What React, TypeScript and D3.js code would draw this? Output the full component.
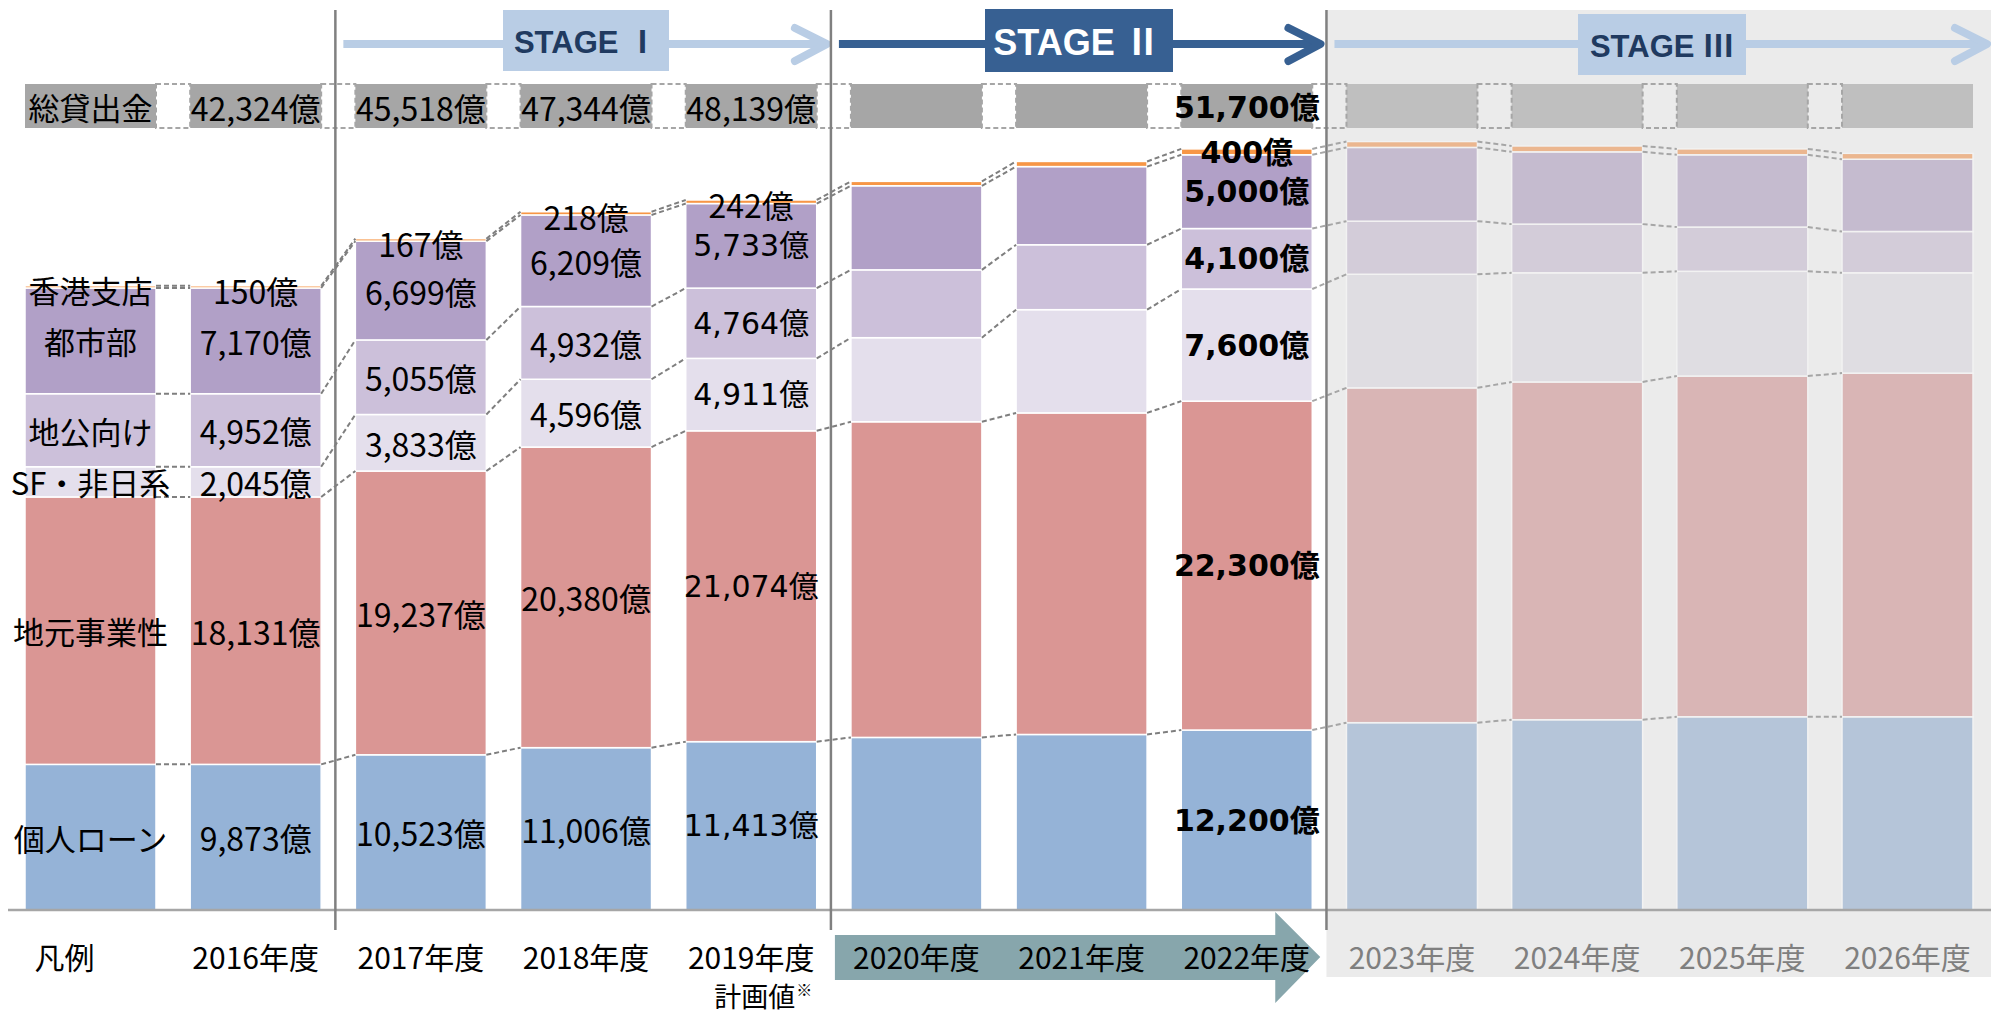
import * as d3 from "d3"

const W = 1991
const H = 1015

const years = ["2016年度", "2017年度", "2018年度", "2019年度", "2020年度", "2021年度", "2022年度", "2023年度", "2024年度", "2025年度", "2026年度"]
const stageOf = [0, 1, 1, 1, 2, 2, 2, 3, 3, 3, 3]
const seriesNames = ["個人ローン", "地元事業性", "SF・非日系", "地公向け", "都市部", "香港支店"]

// 億円, 2020/2021/2023+
const kojin = [9873, 10523, 11006, 11413, 11700, 11900, 12200, 12700, 12900, 13100, 13100]
const jimoto = [18131, 19237, 20380, 21074, 21400, 21800, 22300, 22700, 22900, 23100, 23300]
const sfHinichi = [2045, 3833, 4596, 4911, 5700, 7000, 7600, 7700, 7400, 7100, 6800]
const chiko = [4952, 5055, 4932, 4764, 4600, 4400, 4100, 3600, 3300, 3000, 2800]
const toshibu = [7170, 6699, 6209, 5733, 5700, 5300, 5000, 5000, 4900, 4900, 4900]
const hongkong = [150, 167, 218, 242, 300, 350, 400, 400, 400, 400, 400]
const totalLabels = ["42,324億", "45,518億", "47,344億", "48,139億", "", "", "51,700億", "", "", "", ""]
const valueYears = ["2016年度", "2017年度", "2018年度", "2019年度", "2022年度"]

const colors = ["#95B3D7", "#DA9694", "#E4DFEC", "#CCC0DA", "#B1A0C7", "#F79646"]
const fadedColors = ["#B5C5D9", "#D9B5B5", "#DFDDE2", "#D3CCD9", "#C5BBCF", "#EBB68F"]

const JP = "'Noto Sans CJK JP', 'Noto Sans', sans-serif"
const WIDE = "'DejaVu Sans', 'Noto Sans CJK JP', sans-serif"
const STAGEFONT = "'Liberation Sans', 'Noto Sans CJK JP', sans-serif"

const keys = ["kojin", "jimoto", "sf", "chiko", "toshi", "hk"]
const seriesData = [kojin, jimoto, sfHinichi, chiko, toshibu, hongkong]

const columns = ["凡例", ...years]
// legend column repeats the 2016 bar
const rows = columns.map((c, i) => {
  const j = i === 0 ? 0 : i - 1
  const r: any = { col: c }
  keys.forEach((k, si) => (r[k] = seriesData[si][j]))
  return r
})

const stacked = d3.stack().keys(keys)(rows)

const x = d3.scaleBand().domain(columns).range([25, 1973]).paddingInner(0.207).paddingOuter(0)
const y = d3.scaleLinear().domain([0, 60000]).range([910, 25])
const bw = x.bandwidth()
const fmt = d3.format(",")

const stageIdx = (i: number) => (i === 0 ? 0 : stageOf[i - 1])

const divider = (col: string) => (x(col) as number) - 20

export default function App() {
  const d1 = divider("2017年度")
  const d2 = divider("2020年度")
  const d3x = divider("2023年度")
  const rowTop = 84
  const rowBot = 128

  const arrow = (x0: number, tip: number, color: string) => (
    <g stroke={color} strokeWidth={8} fill="none" strokeLinecap="round" strokeLinejoin="round">
      <line x1={x0} y1={44} x2={tip - 4} y2={44} strokeLinecap="butt" />
      <polyline points={`${tip - 32},${28} ${tip},${44} ${tip - 32},${61}`} />
    </g>
  )

  const tealL = (x("2020年度") as number) - 16
  const tealHead = (x("2022年度") as number) + bw - 37
  const tealTip = (x("2022年度") as number) + bw + 8

  return (
    <svg width={W} height={H} style={{ position: "absolute", left: 0, top: 0, background: "#fff" }}>
      {/* stage III background */}
      <rect x={d3x} y={10} width={W - d3x} height={967} fill="#EBEBEB" />

      {/* stage headers */}
      {arrow(d1 + 8, d2 - 4, "#B9CDE5")}
      {arrow(d2 + 8, d3x - 6, "#376092")}
      {arrow(d3x + 8, W - 4, "#B9CDE5")}
      <rect x={503} y={10} width={166} height={61} fill="#B9CDE5" />
      <text x={586} y={42} textAnchor="middle" dominantBaseline="central" fontFamily={STAGEFONT} fontWeight="bold" fontSize={31} fill="#203A60">STAGE Ⅰ</text>
      <rect x={985} y={9} width={188} height={63} fill="#376092" />
      <text x={1077} y={42} textAnchor="middle" dominantBaseline="central" fontFamily={STAGEFONT} fontWeight="bold" fontSize={36} fill="#fff">STAGE Ⅱ</text>
      <rect x={1578} y={14} width={168} height={61} fill="#B9CDE5" />
      <text x={1662} y={46} textAnchor="middle" dominantBaseline="central" fontFamily={STAGEFONT} fontWeight="bold" fontSize={31} fill="#203A60">STAGE Ⅲ</text>

      {/* total loans row */}
      {columns.map((c, i) => (
        <rect key={"tb" + c} x={x(c)} y={rowTop} width={bw} height={rowBot - rowTop} fill={stageIdx(i) === 3 ? "#BFBFBF" : "#A6A6A6"} />
      ))}
      {columns.slice(0, -1).map((c, i) => (
        <rect key={"tg" + c} x={(x(c) as number) + bw} y={rowTop} width={(x(columns[i + 1]) as number) - (x(c) as number) - bw} height={rowBot - rowTop}
          fill="none" stroke="#A6A6A6" strokeWidth={2} strokeDasharray="5,3" />
      ))}
      <text x={(x("凡例") as number) + bw / 2} y={106} textAnchor="middle" dominantBaseline="central" fontFamily={JP} fontSize={31} fill="#000">総貸出金</text>
      {years.map((yr, i) =>
        totalLabels[i] ? (
          <text key={"tl" + yr} x={(x(yr) as number) + bw / 2} y={107} textAnchor="middle" dominantBaseline="central"
            fontFamily={yr === "2022年度" ? WIDE : JP} fontWeight={yr === "2022年度" ? "bold" : "normal"} fontSize={yr === "2022年度" ? 30 : 32} fill="#000">
            {totalLabels[i]}
          </text>
        ) : null
      )}

      {/* bars */}
      {stacked.map((s, si) =>
        s.map((d, i) => (
          <rect key={"b" + si + "-" + i} x={x(columns[i])} y={y(d[1])} width={bw} height={y(d[0]) - y(d[1])}
            fill={stageIdx(i) === 3 ? fadedColors[si] : colors[si]} stroke={stageIdx(i) === 3 ? "#F2F2F2" : "#fff"} strokeWidth={1.5} />
        ))
      )}

      {/* dashed connectors between bars */}
      {stacked.map((s, si) =>
        s.slice(0, -1).map((d, i) => (
          <line key={"c" + si + "-" + i} x1={(x(columns[i]) as number) + bw} y1={y(d[1])} x2={x(columns[i + 1])} y2={y(s[i + 1][1])}
            stroke={stageIdx(i + 1) === 3 ? "#A6A6A6" : "#7F7F7F"} strokeWidth={2} strokeDasharray="5,3" />
        ))
      )}

      {/* segment value labels */}
      {stacked.map((s, si) =>
        s.map((d, i) => {
          const col = columns[i]
          const cx = (x(col) as number) + bw / 2
          const cy = si === 5 ? y(d[1]) + 4 : (y(d[0]) + y(d[1])) / 2
          if (i === 0) {
            return (
              <text key={"lg" + si} x={cx} y={cy} textAnchor="middle" dominantBaseline="central" fontFamily={JP} fontSize={31} fill="#000">
                {seriesNames[si]}
              </text>
            )
          }
          if (!valueYears.includes(col)) return null
          const bold = col === "2022年度"
          const wide = bold || (col === "2019年度" && si < 5)
          return (
            <text key={"v" + si + "-" + i} x={cx} y={cy} textAnchor="middle" dominantBaseline="central"
              fontFamily={wide ? WIDE : JP} fontWeight={bold ? "bold" : "normal"} fontSize={wide ? 30 : 32} fill="#000">
              {fmt(d[1] - d[0]) + "億"}
            </text>
          )
        })
      )}

      {/* axis + stage dividers */}
      <line x1={8} y1={910} x2={W} y2={910} stroke="#A6A6A6" strokeWidth={2.5} />
      {[d1, d2, d3x].map((dx) => (
        <line key={"d" + dx} x1={dx} y1={10} x2={dx} y2={930} stroke="#808080" strokeWidth={2.5} />
      ))}

      {/* stage II year arrow */}
      <path d={`M${tealL},935 L${tealHead},935 L${tealHead},912 L${tealTip},957 L${tealHead},1003 L${tealHead},980 L${tealL},980 Z`} fill="#87A6AC" />

      {/* category labels */}
      <text x={(x("凡例") as number) + bw / 2 - 26} y={956} textAnchor="middle" dominantBaseline="central" fontFamily={JP} fontSize={30} fill="#000">凡例</text>
      {years.map((yr, i) => (
        <text key={"yl" + yr} x={(x(yr) as number) + bw / 2} y={956} textAnchor="middle" dominantBaseline="central" fontFamily={JP} fontSize={30}
          fill={stageOf[i] === 3 ? "#7F7F7F" : "#000"}>
          {yr}
        </text>
      ))}
      <text x={(x("2019年度") as number) + bw / 2 + 44} y={995} textAnchor="end" dominantBaseline="central" fontFamily={JP} fontSize={27} fill="#000">計画値</text>
      <text x={(x("2019年度") as number) + bw / 2 + 45} y={989} textAnchor="start" dominantBaseline="central" fontFamily={JP} fontSize={16} fill="#000">※</text>
    </svg>
  )
}
